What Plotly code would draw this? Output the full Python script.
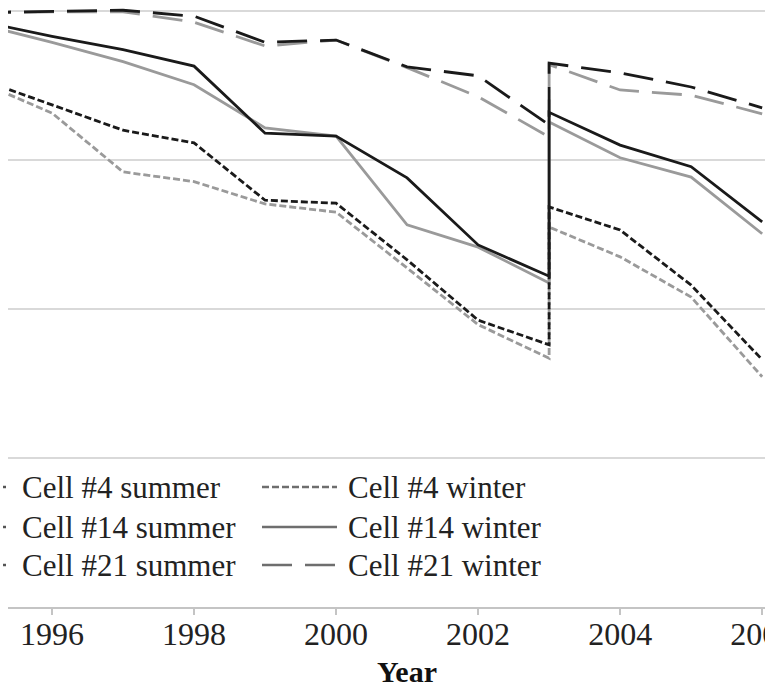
import plotly.graph_objects as go

# ---- data ----
years = [1995, 1996, 1997, 1998, 1999, 2000, 2001, 2002, 2003, 2003, 2004, 2005, 2006]
c4_summer = [70.8, 67.4, 64.0, 62.3, 54.6, 54.2, 46.6, 38.5, 35.2, 53.7, 50.6, 43.2, 33.2]
c4_winter = [70.4, 66.3, 58.4, 57.1, 54.1, 53.0, 45.5, 37.9, 33.4, 51.0, 47.0, 41.6, 30.9]
c14_summer = [78.6, 76.6, 74.8, 72.6, 63.6, 63.2, 57.6, 48.6, 44.4, 66.4, 62.0, 59.1, 51.7]
c14_winter = [78.2, 75.8, 73.2, 70.1, 64.3, 63.2, 51.3, 48.3, 43.5, 65.1, 60.3, 57.7, 50.1]
c21_summer = [79.8, 80.0, 80.1, 79.3, 75.8, 76.1, 72.5, 71.3, 64.7, 73.0, 71.7, 69.8, 67.0]
c21_winter = [79.7, 79.9, 79.9, 78.5, 75.3, 76.1, 72.4, 68.5, 63.1, 72.8, 69.4, 68.7, 66.2]

tick_years = [1996, 1998, 2000, 2002, 2004, 2006]
x_title = "Year"

BLACK = "#1a1a1a"
GRAY = "#9a9a9a"
SHORT = "7px,3px"
LONG = "30px,13px"
FONT = "Liberation Serif, Times New Roman, serif"

W, H = 765, 691
ML, MB = 8, 84
PW, PH = W - ML, H - MB

def px_x(p):
    return (p - ML) / PW

def px_y(p):
    return (PH - p) / PH

fig = go.Figure()

series = [
    ("Cell #4 winter", c4_winter, GRAY, SHORT),
    ("Cell #14 winter", c14_winter, GRAY, "solid"),
    ("Cell #21 winter", c21_winter, GRAY, LONG),
    ("Cell #4 summer", c4_summer, BLACK, SHORT),
    ("Cell #14 summer", c14_summer, BLACK, "solid"),
    ("Cell #21 summer", c21_summer, BLACK, LONG),
]
for name, vals, col, dash in series:
    fig.add_trace(go.Scatter(
        x=years, y=vals, name=name, mode="lines",
        line=dict(color=col, width=2.8, dash=dash),
        showlegend=False,
    ))

# ---- manual legend (two columns, three rows) ----
rows_py = [487, 527, 565]
summer_items = [("Cell #4 summer", SHORT), ("Cell #14 summer", "solid"), ("Cell #21 summer", LONG)]
winter_items = [("Cell #4 winter", SHORT), ("Cell #14 winter", "solid"), ("Cell #21 winter", LONG)]
shapes = []
annotations = []
for (s_name, s_dash), (w_name, w_dash), py in zip(summer_items, winter_items, rows_py):
    yy = px_y(py)
    shapes.append(dict(type="line", xref="paper", yref="paper",
                       x0=px_x(3), x1=px_x(6), y0=yy, y1=yy,
                       line=dict(color="#555", width=2.5)))
    shapes.append(dict(type="line", xref="paper", yref="paper",
                       x0=px_x(262), x1=px_x(337), y0=yy, y1=yy,
                       line=dict(color="#6e6e6e", width=2.6, dash=w_dash)))
    annotations.append(dict(text=s_name, xref="paper", yref="paper",
                            x=px_x(20), y=yy, xanchor="left", yanchor="middle",
                            showarrow=False, font=dict(family=FONT, size=31, color="#222")))
    annotations.append(dict(text=w_name, xref="paper", yref="paper",
                            x=px_x(346), y=yy, xanchor="left", yanchor="middle",
                            showarrow=False, font=dict(family=FONT, size=31, color="#222")))

annotations.append(dict(text="<b>" + x_title + "</b>", xref="paper", yref="paper",
                        x=px_x(407), y=px_y(671), xanchor="center", yanchor="middle",
                        showarrow=False, font=dict(family=FONT, size=30, color="#111")))

fig.update_layout(
    width=W, height=H,
    margin=dict(l=ML, r=0, t=0, b=MB, pad=0, autoexpand=False),
    paper_bgcolor="white", plot_bgcolor="white",
    shapes=shapes, annotations=annotations,
    xaxis=dict(
        range=[1995.38, 2006.04], tickvals=tick_years, ticktext=[str(t) for t in tick_years],
        showgrid=False, zeroline=False, showline=True, linecolor="#c4c4c4", linewidth=2,
        ticks="outside", ticklen=6, tickcolor="#c4c4c4", tickwidth=1.5,
        tickfont=dict(family=FONT, size=32, color="#222"),
        automargin=False, ticklabelstandoff=-8, ticklabeloverflow="allow",
    ),
    yaxis=dict(
        range=[0, PH / 7.45], tickvals=[20, 40, 60, 80], showticklabels=False,
        showgrid=True, gridcolor="#d9d9d9", gridwidth=2, zeroline=False, showline=False,
        ticks="", automargin=False,
    ),
)

fig.write_html(
    "out.html",
    config={"displayModeBar": False},
    post_script="document.body.style.margin='0';document.body.style.overflow='hidden';",
)
